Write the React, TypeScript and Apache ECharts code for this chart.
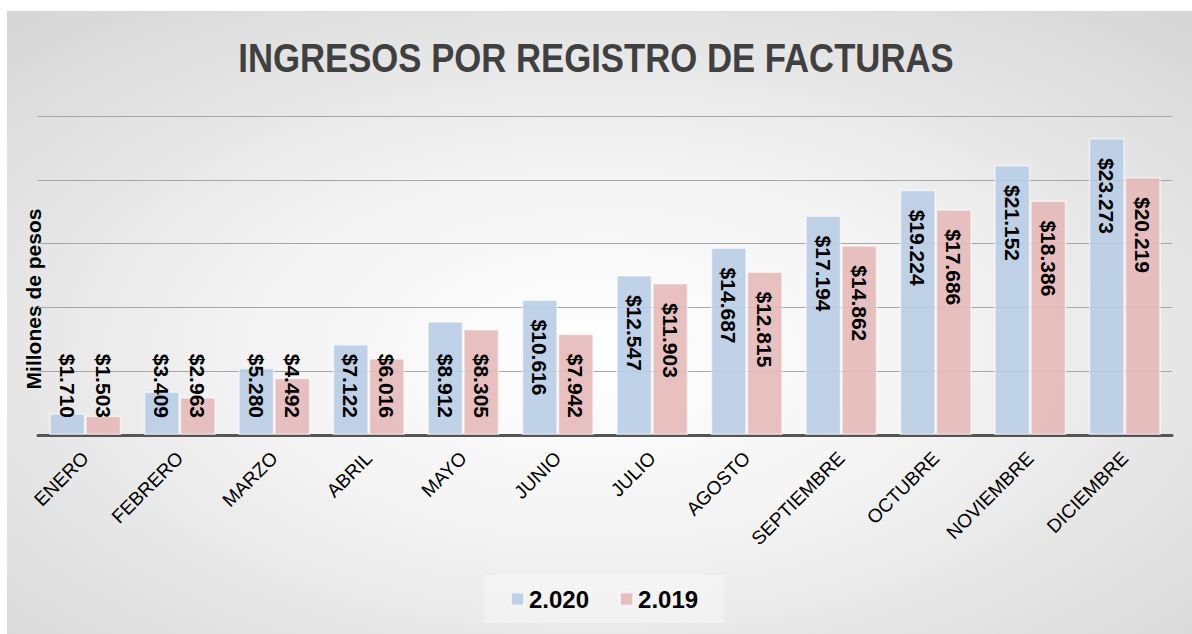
import React, { useEffect, useRef } from 'react';
import * as echarts from 'echarts';

const months = ['ENERO', 'FEBRERO', 'MARZO', 'ABRIL', 'MAYO', 'JUNIO', 'JULIO', 'AGOSTO', 'SEPTIEMBRE', 'OCTUBRE', 'NOVIEMBRE', 'DICIEMBRE'];
const ingresos2020 = [1.71, 3.409, 5.28, 7.122, 8.912, 10.616, 12.547, 14.687, 17.194, 19.224, 21.152, 23.273];
const ingresos2019 = [1.503, 2.963, 4.492, 6.016, 8.305, 7.942, 11.903, 12.815, 14.862, 17.686, 18.386, 20.219];
const seriesNames = ['2.020', '2.019'];
const yMin = 0;
const yMax = 25;
const yInterval = 5;

const TITLE = 'INGRESOS POR REGISTRO DE FACTURAS';
const Y_NAME = 'Millones de pesos';

const topLabel = { position: 'insideTop', align: 'left', distance: 20 };
const bottomLabel = { position: 'insideBottom', align: 'right', distance: 17 };

const withLabels = (vals: number[]) =>
  vals.map((v) => ({ value: v, label: v < 9.5 ? bottomLabel : topLabel }));

export default function App() {
  const ref = useRef<HTMLDivElement>(null);
  useEffect(() => {
    document.body.style.margin = '0';
    const chart = echarts.init(ref.current!, null, { renderer: 'svg' });
    const labelCommon = {
      show: true,
      rotate: -90,
      verticalAlign: 'middle',
      fontFamily: 'Liberation Sans, Arial, sans-serif',
      fontWeight: 'bold',
      fontSize: 21,
      color: '#000000',
      formatter: (p: any) => '$' + Number(p.value).toFixed(3),
    };
    chart.setOption({
      animation: false,
      backgroundColor: {
        type: 'radial',
        x: 0.5,
        y: 0.55,
        r: 1.0,
        colorStops: [
          { offset: 0, color: '#ffffff' },
          { offset: 0.3, color: '#f3f3f3' },
          { offset: 1, color: '#c4c4c4' },
        ],
      },
      legend: {
        left: 477,
        top: 564,
        padding: [12, 26, 12, 26],
        backgroundColor: 'rgba(255,255,255,0.35)',
        itemWidth: 13,
        itemHeight: 13,
        itemGap: 30,
        icon: 'rect',
        textStyle: {
          fontFamily: 'Liberation Sans, Arial, sans-serif',
          fontWeight: 'bold',
          fontSize: 24,
          color: '#000000',
        },
        data: seriesNames,
      },
      grid: { left: 31, right: 20, top: 105, bottom: 199, containLabel: false },
      xAxis: {
        type: 'category',
        data: months,
        axisLine: { show: true, lineStyle: { color: '#555555', width: 3 } },
        axisTick: { show: false },
        axisLabel: {
          rotate: 45,
          margin: 20,
          interval: 0,
          fontFamily: 'Liberation Sans, Arial, sans-serif',
          fontSize: 19,
          color: '#000000',
        },
      },
      yAxis: {
        type: 'value',
        min: yMin,
        max: yMax,
        interval: yInterval,
        axisLine: { show: false },
        axisTick: { show: false },
        axisLabel: { show: false },
        splitLine: { show: true, lineStyle: { color: '#a6a6a6', width: 1 } },
      },
      graphic: [
        {
          type: 'text',
          x: 589,
          y: 47,
          scaleX: 0.868,
          style: {
            text: TITLE,
            fontFamily: 'Liberation Sans, Arial, sans-serif',
            fontWeight: 'bold',
            fontSize: 40,
            fill: '#404040',
            align: 'center',
            verticalAlign: 'middle',
          },
        },
        {
          type: 'text',
          x: 26,
          y: 288,
          rotation: Math.PI / 2,
          style: {
            text: Y_NAME,
            fontFamily: 'Liberation Sans, Arial, sans-serif',
            fontWeight: 'bold',
            fontSize: 21,
            fill: '#000000',
            align: 'center',
            verticalAlign: 'middle',
          },
        },
      ],
      series: [
        {
          name: seriesNames[0],
          type: 'bar',
          data: withLabels(ingresos2020),
          barWidth: 36,
          barGap: '0%',
          itemStyle: { color: 'rgba(185,205,229,0.9)', borderColor: 'rgba(255,255,255,0.6)', borderWidth: 1.5 },
          label: labelCommon,
        },
        {
          name: seriesNames[1],
          type: 'bar',
          data: withLabels(ingresos2019),
          barWidth: 36,
          barGap: '0%',
          itemStyle: { color: 'rgba(230,185,184,0.9)', borderColor: 'rgba(255,255,255,0.6)', borderWidth: 1.5 },
          label: labelCommon,
        },
      ],
    });
    return () => chart.dispose();
  }, []);
  return <div ref={ref} style={{ position: 'absolute', left: 7, top: 11, width: 1185, height: 623 }} />;
}
